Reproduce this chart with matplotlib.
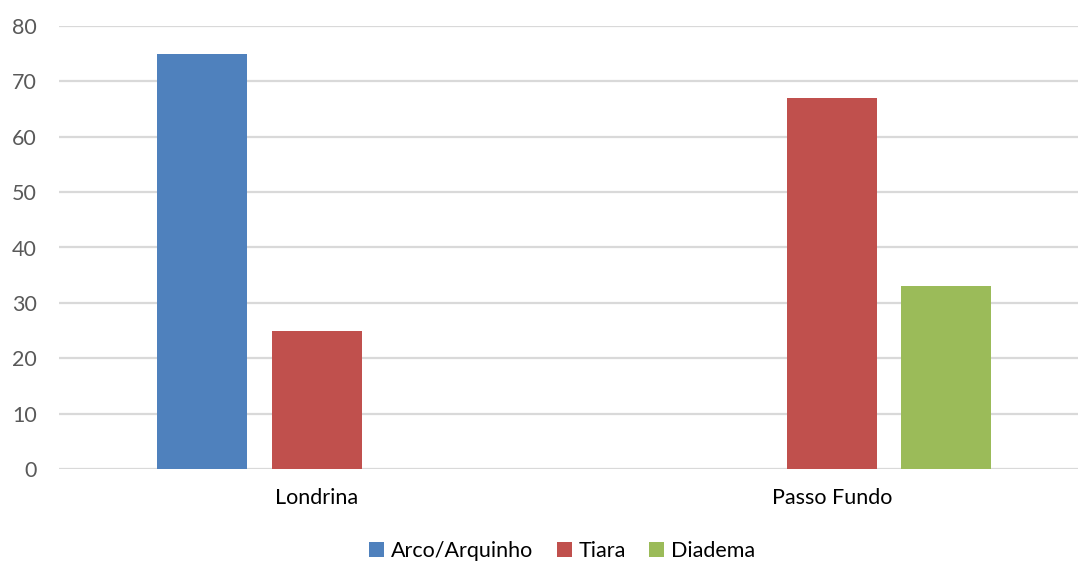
import matplotlib
matplotlib.use("Agg")
import matplotlib.pyplot as plt
import numpy as np

categories = ["Londrina", "Passo Fundo"]
series_names = ["Arco/Arquinho", "Tiara", "Diadema"]
arco = [75, 0]
tiara = [25, 67]
diadema = [0, 33]
y_ticks = [0, 10, 20, 30, 40, 50, 60, 70, 80]

colors = ["#4F81BD", "#C0504D", "#9BBB59"]

plt.rcParams['font.family'] = ['Lato', 'DejaVu Sans']

W, H = 1078, 562
fig = plt.figure(figsize=(W / 100, H / 100), dpi=100)
left_px, right_px, bottom_px, top_px = 59, 1078, 469, 26
ax = fig.add_axes([left_px / W, (H - bottom_px) / H, (right_px - left_px) / W, (bottom_px - top_px) / H])

x = np.arange(len(categories))
width = 90 / 515
offsets = [-114.5 / 515, 0, 114.5 / 515]
for vals, off, c, name in zip([arco, tiara, diadema], offsets, colors, series_names):
    ax.bar(x + off, vals, width=width, color=c, label=name, zorder=3)

ax.set_ylim(0, 80)
ax.set_xlim(-0.5, (1078 - 317) / 515)
ax.set_yticks(y_ticks)
ax.set_xticks(x)
ax.set_xticklabels(categories)
ax.yaxis.grid(True, color="#d9d9d9", linewidth=1.6, zorder=0)
ax.set_axisbelow(True)
for s in ax.spines.values():
    s.set_visible(False)
ax.tick_params(axis='y', length=0, pad=16, labelsize=15.5, labelcolor="#595959")
ax.tick_params(axis='x', length=0, pad=14, labelsize=15.5, labelcolor="#000000")

leg = fig.legend(loc='lower center', bbox_to_anchor=(562 / W, 0.0), ncol=3,
                 frameon=False, fontsize=15.5, handlelength=0.7, handleheight=0.7,
                 handletextpad=0.3, columnspacing=1.1, borderpad=0.05,
                 borderaxespad=0.0)

fig.savefig("out.png", dpi=100)
